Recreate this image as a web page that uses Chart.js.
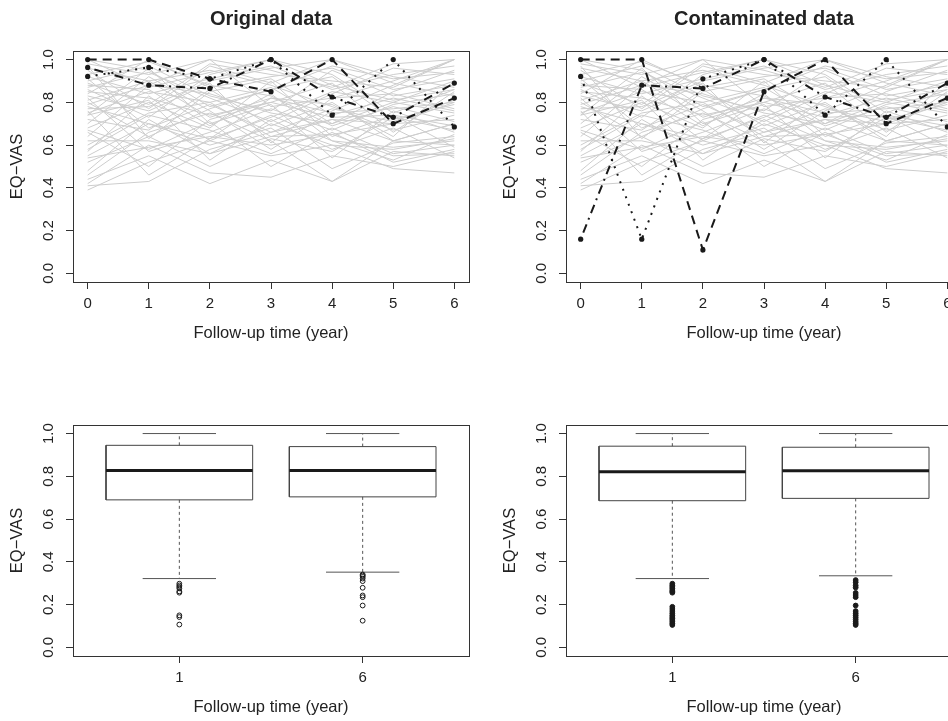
<!DOCTYPE html>
<html>
<head>
<meta charset="utf-8">
<script src="https://cdn.jsdelivr.net/npm/chart.js@4.4.0/dist/chart.umd.min.js"></script>
<style>
  body { margin: 0; background: #fff; overflow: hidden; }
  .panel { position: absolute; width: 493px; height: 374px; }
</style>
</head>
<body>
<div class="panel" style="left:0;top:0"><canvas id="origLines" width="493" height="374"></canvas></div>
<div class="panel" style="left:493px;top:0"><canvas id="contLines" width="493" height="374"></canvas></div>
<div class="panel" style="left:0;top:374px"><canvas id="origBox" width="493" height="374"></canvas></div>
<div class="panel" style="left:493px;top:374px"><canvas id="contBox" width="493" height="374"></canvas></div>
<script>
const years = [0, 1, 2, 3, 4, 5, 6];
const yTicks = [0, 0.2, 0.4, 0.6, 0.8, 1.0];

// background subjects (same in both panels)
const greyLines = [
  [0.39, 0.52, 0.62, 0.55, 0.60, 0.58, 0.63],
  [0.41, 0.43, 0.58, 0.66, 0.72, 0.62, 0.70],
  [0.42, 0.60, 0.47, 0.45, 0.55, 0.50, 0.57],
  [0.44, 0.55, 0.42, 0.53, 0.43, 0.57, 0.55],
  [0.46, 0.66, 0.75, 0.62, 0.43, 0.62, 0.60],
  [0.48, 0.72, 0.56, 0.70, 0.60, 0.49, 0.47],
  [0.54, 0.59, 0.64, 0.60, 0.65, 0.55, 0.56],
  [0.55, 0.70, 0.63, 0.82, 0.75, 0.77, 0.80],
  [0.57, 0.83, 0.62, 0.74, 0.62, 0.53, 0.65],
  [0.60, 0.75, 0.80, 0.87, 0.70, 0.80, 0.90],
  [0.62, 0.62, 0.56, 0.64, 0.65, 0.70, 0.72],
  [0.64, 0.88, 1.00, 0.78, 0.82, 0.84, 0.77],
  [0.66, 0.50, 0.72, 0.80, 0.89, 0.66, 0.85],
  [0.68, 0.80, 0.68, 0.90, 0.64, 0.74, 0.59],
  [0.70, 0.92, 0.76, 0.58, 0.76, 0.88, 1.00],
  [0.72, 0.67, 0.86, 0.69, 0.80, 0.62, 0.70],
  [0.74, 0.96, 0.70, 0.79, 0.54, 0.76, 0.66],
  [0.75, 0.85, 0.80, 0.64, 0.72, 0.70, 0.80],
  [0.76, 0.46, 0.63, 0.73, 0.85, 0.80, 0.75],
  [0.77, 0.78, 0.90, 0.96, 1.00, 0.92, 0.87],
  [0.78, 0.70, 0.60, 0.68, 0.49, 0.61, 0.64],
  [0.79, 0.88, 0.84, 0.75, 0.70, 0.85, 0.95],
  [0.80, 0.64, 0.77, 0.86, 0.92, 0.72, 0.79],
  [0.81, 0.90, 0.95, 0.88, 0.78, 0.67, 0.74],
  [0.82, 0.57, 0.66, 0.77, 0.67, 0.79, 0.84],
  [0.83, 0.76, 0.89, 0.61, 0.82, 0.90, 1.00],
  [0.84, 1.00, 0.87, 0.92, 0.96, 0.86, 0.91],
  [0.85, 0.82, 0.74, 0.80, 0.73, 0.74, 0.69],
  [0.86, 0.73, 0.93, 1.00, 0.88, 0.81, 0.86],
  [0.87, 0.94, 0.82, 0.71, 0.84, 0.96, 0.93],
  [0.88, 0.86, 0.69, 0.84, 0.62, 0.59, 0.62],
  [0.89, 0.79, 0.98, 0.93, 0.90, 0.87, 1.00],
  [0.90, 0.97, 0.83, 0.76, 0.95, 0.83, 0.88],
  [0.91, 0.68, 0.79, 0.66, 0.77, 0.71, 0.81],
  [0.92, 0.84, 0.91, 0.97, 0.86, 0.93, 0.97],
  [0.93, 0.99, 0.88, 0.83, 0.69, 0.78, 0.71],
  [0.95, 0.77, 0.97, 0.89, 1.00, 0.89, 0.83],
  [0.96, 0.90, 0.73, 0.82, 0.79, 0.64, 0.90],
  [0.97, 0.63, 0.85, 0.91, 0.74, 0.82, 0.76],
  [0.98, 0.93, 1.00, 0.95, 0.87, 0.98, 1.00],
  [1.00, 0.87, 0.94, 1.00, 0.93, 0.75, 0.86],
  [1.00, 0.95, 0.78, 0.86, 0.97, 0.91, 0.94],
  [0.74, 0.81, 0.53, 0.72, 0.58, 0.68, 0.54],
  [0.58, 0.74, 0.67, 0.56, 0.68, 0.56, 0.60],
  [0.52, 0.64, 0.50, 0.63, 0.57, 0.73, 0.67],
  [0.67, 0.58, 0.71, 0.50, 0.66, 0.52, 0.58]
];

// highlighted subjects
const origDashed  = [1.00, 1.00, 0.91, 0.85, 1.00, 0.70, 0.82];
const origDotted  = [0.921, 0.963, 0.91, 1.00, 0.74, 1.00, 0.685];
const origDotDash = [0.963, 0.88, 0.865, 1.00, 0.825, 0.73, 0.89];
const contDashed  = [1.00, 1.00, 0.11, 0.85, 1.00, 0.70, 0.82];
const contDotted  = [0.921, 0.16, 0.91, 1.00, 0.74, 1.00, 0.685];
const contDotDash = [0.16, 0.88, 0.865, 1.00, 0.825, 0.73, 0.89];

// boxplots at follow-up years 1 and 6
const boxPositions = [1, 2];
const boxLabels = ['1', '6'];
const origLower  = [0.322, 0.352];
const origQ1     = [0.690, 0.704];
const origMedian = [0.827, 0.827];
const origQ3     = [0.945, 0.939];
const origUpper  = [1.0, 1.0];
const origOut1 = [0.298, 0.290, 0.283, 0.276, 0.262, 0.256, 0.150, 0.142, 0.107];
const origOut6 = [0.341, 0.336, 0.330, 0.322, 0.310, 0.279, 0.243, 0.235, 0.196, 0.125];
const contLower  = [0.322, 0.335];
const contQ1     = [0.686, 0.697];
const contMedian = [0.821, 0.826];
const contQ3     = [0.941, 0.936];
const contUpper  = [1.0, 1.0];
const contOut1 = [0.298, 0.290, 0.283, 0.276, 0.268, 0.262, 0.256, 0.190, 0.180, 0.170, 0.160, 0.150, 0.142, 0.135, 0.128, 0.120, 0.112, 0.105];
const contOut6 = [0.315, 0.305, 0.290, 0.280, 0.255, 0.245, 0.235, 0.196, 0.170, 0.160, 0.150, 0.140, 0.130, 0.120, 0.112, 0.105];

const FONT = 'Liberation Sans, Arial, Helvetica, sans-serif';
const INK = '#222';

const framePlugin = {
  id: 'frame',
  afterDraw(chart, args, opts) {
    const {ctx, chartArea: a} = chart;
    const ys = chart.scales.y;
    ctx.save();
    ctx.strokeStyle = '#333';
    ctx.lineWidth = 1;
    ctx.strokeRect(a.left + 0.5, a.top + 0.5, a.right - a.left, a.bottom - a.top);
    // rotated y tick labels, R style
    ctx.fillStyle = INK;
    ctx.font = '15px ' + FONT;
    ctx.textAlign = 'center';
    ctx.textBaseline = 'alphabetic';
    yTicks.forEach(v => {
      ctx.save();
      ctx.translate(53, ys.getPixelForValue(v));
      ctx.rotate(-Math.PI / 2);
      ctx.fillText(v.toFixed(1), 0, 0);
      ctx.restore();
    });
    if (opts.title) {
      ctx.font = 'bold 20px ' + FONT;
      ctx.textBaseline = 'middle';
      ctx.fillText(opts.title, (a.left + a.right) / 2, 19);
    }
    ctx.restore();
  }
};

function axes(xMin, xMax, xTicks, xLabel) {
  return {
    x: {
      type: 'linear', min: xMin, max: xMax,
      afterBuildTicks: s => { s.ticks = xTicks.map(v => ({value: v})); },
      afterFit: s => { s.height = 92; },
      grid: { drawOnChartArea: false, drawTicks: true, tickLength: 7, color: '#333' },
      border: { display: false },
      ticks: {
        color: INK, font: { size: 15, family: FONT }, padding: 6,
        maxRotation: 0, autoSkip: false,
        callback: (v, i) => xLabel ? xLabel[i] : String(v)
      },
      title: {
        display: true, text: 'Follow-up time (year)', color: INK,
        font: { size: 16.5, family: FONT }, padding: { top: 0, bottom: 31 }
      }
    },
    y: {
      type: 'linear', min: -0.04, max: 1.04,
      afterBuildTicks: s => { s.ticks = yTicks.map(v => ({value: v})); },
      afterFit: s => { s.width = 73; },
      grid: { drawOnChartArea: false, drawTicks: true, tickLength: 7, color: '#333' },
      border: { display: false },
      ticks: { color: 'rgba(0,0,0,0)', font: { size: 15, family: FONT } },
      title: {
        display: true, text: 'EQ\u2212VAS', color: INK,
        font: { size: 16.5, family: FONT }, padding: { top: 8, bottom: 0 }
      }
    }
  };
}

function toPoints(vals, xs) {
  return vals.map((v, i) => ({x: xs[i], y: v}));
}

function lineChart(id, title, dashed, dotted, dotDash) {
  const black = (vals, dash) => ({
    data: toPoints(vals, years), showLine: true,
    borderColor: '#1a1a1a', borderWidth: 2, borderDash: dash,
    pointRadius: 2.6, pointBackgroundColor: '#1a1a1a', pointBorderWidth: 0
  });
  const datasets = [
    black(dashed, [9, 6]),
    black(dotted, [2, 6]),
    black(dotDash, [2, 5, 9, 5])
  ];
  greyLines.forEach(g => datasets.push({
    data: toPoints(g, years), showLine: true,
    borderColor: '#cdcdcd', borderWidth: 1, pointRadius: 0
  }));
  new Chart(document.getElementById(id), {
    type: 'scatter',
    data: { datasets },
    options: {
      responsive: false, animation: false,
      layout: { padding: { top: 51, right: 24, left: 0, bottom: 0 } },
      scales: axes(-0.24, 6.24, years, null),
      plugins: { legend: { display: false }, tooltip: { enabled: false }, frame: { title } }
    },
    plugins: [framePlugin]
  });
}

function boxChart(id, lower, q1, med, q3, upper, outs, filled) {
  const datasets = [];
  const seg = (pts, width, color, dash) => datasets.push({
    data: pts, showLine: true, borderColor: color, borderWidth: width,
    borderDash: dash || [], pointRadius: 0
  });
  boxPositions.forEach((p, i) => {
    datasets.push({
      data: outs[i].map(v => ({x: p, y: v})), showLine: false,
      pointRadius: 2.4, pointBorderWidth: 1, pointBorderColor: '#1a1a1a',
      pointBackgroundColor: filled ? '#1a1a1a' : 'rgba(0,0,0,0)'
    });
    seg([{x: p - 0.4, y: med[i]}, {x: p + 0.4, y: med[i]}], 3, '#1a1a1a');
    seg([{x: p - 0.4, y: q1[i]}, {x: p + 0.4, y: q1[i]}, {x: p + 0.4, y: q3[i]},
         {x: p - 0.4, y: q3[i]}, {x: p - 0.4, y: q1[i]}], 1, '#444');
    seg([{x: p, y: q3[i]}, {x: p, y: upper[i]}], 1, '#555', [3, 3]);
    seg([{x: p, y: q1[i]}, {x: p, y: lower[i]}], 1, '#555', [3, 3]);
    seg([{x: p - 0.2, y: upper[i]}, {x: p + 0.2, y: upper[i]}], 1, '#555');
    seg([{x: p - 0.2, y: lower[i]}, {x: p + 0.2, y: lower[i]}], 1, '#555');
  });
  new Chart(document.getElementById(id), {
    type: 'scatter',
    data: { datasets },
    options: {
      responsive: false, animation: false,
      layout: { padding: { top: 51, right: 24, left: 0, bottom: 0 } },
      scales: axes(0.42, 2.58, boxPositions, boxLabels),
      plugins: { legend: { display: false }, tooltip: { enabled: false }, frame: { title: '' } }
    },
    plugins: [framePlugin]
  });
}

lineChart('origLines', 'Original data', origDashed, origDotted, origDotDash);
lineChart('contLines', 'Contaminated data', contDashed, contDotted, contDotDash);
boxChart('origBox', origLower, origQ1, origMedian, origQ3, origUpper, [origOut1, origOut6], false);
boxChart('contBox', contLower, contQ1, contMedian, contQ3, contUpper, [contOut1, contOut6], true);
</script>
</body>
</html>
